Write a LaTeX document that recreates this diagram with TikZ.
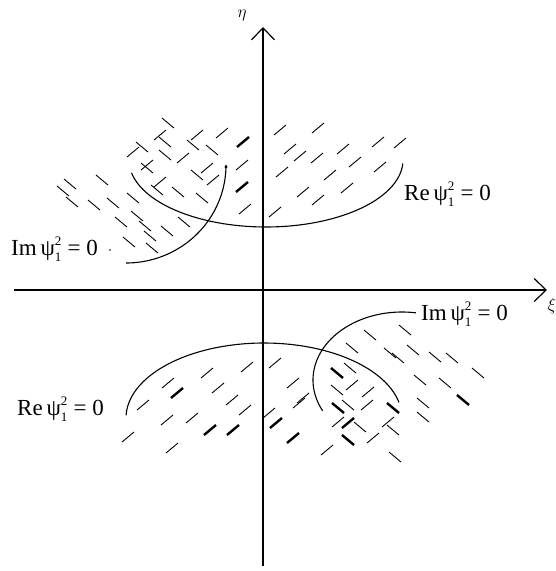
\documentclass[tikz,border=0pt]{standalone}
\usepackage{fontspec}
\setmainfont{Liberation Serif}
\usetikzlibrary{arrows.meta}
\newcommand\psilab[1]{#1\,$\mbox{ψ}_{\mbox{\fontsize{13}{13}\selectfont 1}}^{\mbox{\fontsize{13}{13}\selectfont 2}}$ = 0}
\tikzset{
  axis/.style={line width=1.5pt, -{Straight Barb[length=12pt,width=23pt,line width=1.2pt]}},
  curve/.style={line width=1.1pt},
  hatch/.style={line width=0.9pt},
  boldhatch/.style={line width=2.4pt},
  lab/.style={anchor=base west, inner sep=0pt, font=\fontsize{23}{26}\selectfont},
  axlab/.style={inner sep=0pt, font=\fontsize{17}{19}\selectfont}
}
\begin{document}
\begin{tikzpicture}[x=1pt,y=-1pt]
\useasboundingbox (0,0) rectangle (555,571);
% axes
\coordinate (xl) at (14,290);
\coordinate (xr) at (547,290);
\coordinate (yb) at (263,566);
\coordinate (yt) at (263,27);
\draw[axis] (xl) -- (xr);
\draw[axis] (yb) -- (yt);
\node[axlab] (eta) at (242,15) {$\eta$};
\node[axlab] (xi) at (552,306) {$\xi$};
% curves
\draw[curve] plot[domain=3:169, samples=80] ({266+137*cos(\x)},{160+67*sin(\x)});
\draw[curve] plot[domain=0:90, samples=60] ({126+100*cos(\x)},{165+98*sin(\x)});
\draw[curve] plot[domain=182:348, samples=80] ({264+138*cos(\x)},{418+75*sin(\x)});
\draw[curve] plot[domain=153:279, samples=80] ({402+89*cos(\x)},{380+68*sin(\x)});
\fill (226,167) circle (1.6pt);
\fill (110,250) circle (0.9pt);
% labels
\node[lab] (re1) at (404,200) {\psilab{Re}};
\node[lab] (im1) at (11,255) {\psilab{Im}};
\node[lab] (re2) at (17,415) {\psilab{Re}};
\node[lab] (im2) at (421,320) {\psilab{Im}};
% hatching: "\" strokes
\foreach \a/\b in {168/123,63/191,70/184,72/202,102/180,94/205,113/203,133/198,121/222,137/216,145/226,150/236,129/242,152/248,167/231,184/222,
  142/147,165/142,193/145,212/150,165/155,147/168,197/175,178/192,157/190,202/198,
  370/335,405/330,390/353,398/358,413/350,435/357,452/358,478/373,420/380,445/383,423/403,423/417,352/348,350/368,337/390,348/405,393/430,360/427,395/457}
  \draw[hatch] (\a-6,\b-5) -- (\a+6,\b+5);
\foreach \a/\b in {463/400,337/373,338/408,393/408,348/440}
  \draw[boldhatch] (\a-6,\b-5) -- (\a+6,\b+5);
% hatching: "/" strokes
\foreach \a/\b in {160/135,197/135,222/133,133/152,183/158,147/165,207/168,160/182,213/180,
  242/165,245/209,280/130,318/128,290/149,300/156,317/158,282/172,343/149,355/162,378/142,400/143,380/167,330/175,303/192,318/200,347/188,275/212,
  168/383,143/405,128/437,167/420,172/448,192/418,207/373,218/388,232/400,245/410,247/367,275/363,269/413,293/383,299/403,
  352/385,368/392,367/405,338/422,373/438,327/450,388/422,303/398}
  \draw[hatch] (\a-6,\b+5) -- (\a+6,\b-5);
\foreach \a/\b in {243/142,242/187,177/393,210/430,233/430,276/423,293/438,348/423}
  \draw[boldhatch] (\a-6,\b+5) -- (\a+6,\b-5);
\end{tikzpicture}
\end{document}
